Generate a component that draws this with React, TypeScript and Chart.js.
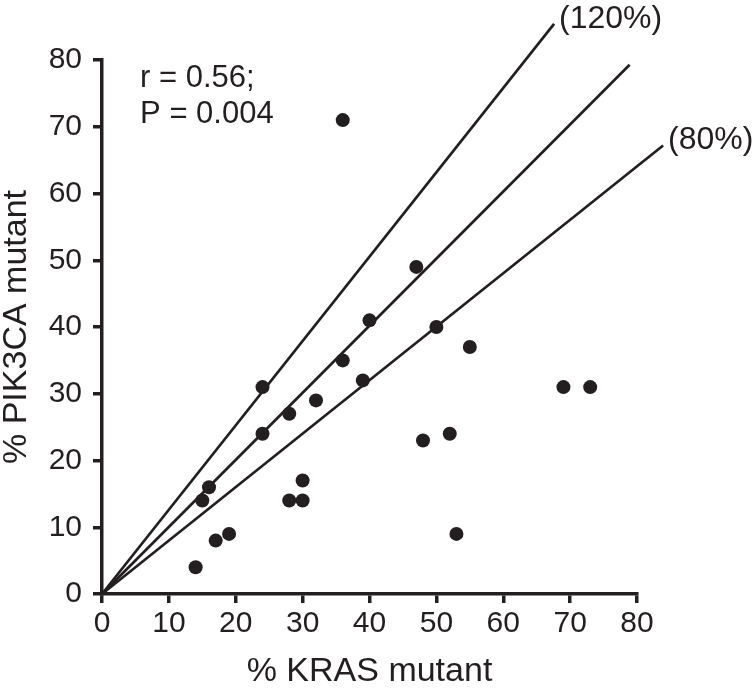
import React, { useEffect, useRef } from "react";
import { Chart, registerables } from "chart.js";

Chart.register(...registerables);

// ---- data ----
const krasMutant = [36, 40, 47, 50, 55, 69, 73, 48, 52, 53, 36, 39, 32, 28, 24, 24, 16, 15, 28, 30, 30, 17, 19, 14];
const pik3caMutant = [71, 41, 49, 40, 37, 31, 31, 23, 24, 9, 35, 32, 29, 27, 31, 24, 16, 14, 14, 14, 17, 8, 9, 4];

// reference lines from the origin: end points (x, y)
const lineEndX = [67.6, 78.9, 83.9];
const lineEndY = [85.4, 79.3, 67.2];
const lineLabels = ["(120%)", "", "(80%)"];

const statText = ["r = 0.56;", "P = 0.004"];
const statX = 5.7;
const statY = [76, 70.5];

const axisMin = 0;
const axisMax = 80;
const axisStep = 10;
const xTitle = "% KRAS mutant";
const yTitle = "% PIK3CA mutant";

const INK = "#231f20";
const FONT = '"Liberation Sans", Arial, Helvetica, sans-serif';

const textPlugin = {
  id: "textPlugin",
  afterDatasetsDraw(chart: any) {
    const { ctx, scales } = chart;
    const x = scales.x;
    const y = scales.y;
    ctx.save();
    ctx.fillStyle = INK;
    ctx.textAlign = "left";
    ctx.textBaseline = "alphabetic";
    ctx.font = `31px ${FONT}`;
    statText.forEach((t, i) => {
      ctx.fillText(t, x.getPixelForValue(statX), y.getPixelForValue(statY[i]));
    });
    ctx.font = `32px ${FONT}`;
    ctx.textBaseline = "middle";
    lineLabels.forEach((t, i) => {
      if (!t) return;
      ctx.fillText(t, x.getPixelForValue(lineEndX[i]) + 5, y.getPixelForValue(lineEndY[i]) - 5);
    });
    ctx.restore();
  },
};

export default function App() {
  const ref = useRef<HTMLCanvasElement | null>(null);

  useEffect(() => {
    if (!ref.current) return;
    const points = krasMutant.map((v, i) => ({ x: v, y: pik3caMutant[i] }));
    const lineSets = lineEndX.map((ex, i) => ({
      label: lineLabels[i] || "equal",
      data: [
        { x: 0, y: 0 },
        { x: ex, y: lineEndY[i] },
      ],
      showLine: true,
      borderColor: INK,
      borderWidth: 2.7,
      pointRadius: 0,
      pointHoverRadius: 0,
      clip: false as any,
      order: 2,
    }));

    const chart = new Chart(ref.current, {
      type: "scatter",
      data: {
        datasets: [
          {
            label: "samples",
            data: points,
            backgroundColor: INK,
            borderWidth: 0,
            pointRadius: 7,
            pointHoverRadius: 7,
            clip: false as any,
            order: 1,
          },
          ...lineSets,
        ],
      },
      plugins: [textPlugin],
      options: {
        responsive: false,
        animation: false,
        events: [],
        layout: { padding: { top: 60, right: 118, bottom: 0, left: 0 } },
        plugins: {
          legend: { display: false },
          tooltip: { enabled: false },
        },
        scales: {
          x: {
            type: "linear",
            min: axisMin,
            max: axisMax,
            afterFit(scale: any) {
              scale.height = 95;
            },
            ticks: {
              stepSize: axisStep,
              color: INK,
              font: { size: 30, family: FONT },
              padding: 3,
              maxRotation: 0,
            },
            grid: {
              drawOnChartArea: false,
              drawTicks: true,
              tickLength: 9,
              tickWidth: 3.5,
              lineWidth: 3.5,
              tickColor: INK,
            },
            border: { display: true, width: 3.5, color: INK },
            title: {
              display: true,
              text: xTitle,
              color: INK,
              font: { size: 34, family: FONT, lineHeight: 1 },
              padding: 0,
            },
          },
          y: {
            type: "linear",
            min: axisMin,
            max: axisMax,
            afterFit(scale: any) {
              scale.width = 102;
            },
            ticks: {
              stepSize: axisStep,
              color: INK,
              font: { size: 30, family: FONT },
              padding: 11,
            },
            grid: {
              drawOnChartArea: false,
              drawTicks: true,
              tickLength: 9,
              tickWidth: 3.5,
              lineWidth: 3.5,
              tickColor: INK,
            },
            border: { display: true, width: 3.5, color: INK },
            title: {
              display: true,
              text: yTitle,
              color: INK,
              font: { size: 34, family: FONT, lineHeight: 1 },
              padding: 0,
            },
          },
        },
      },
    } as any);
    return () => chart.destroy();
  }, []);

  return (
    <div style={{ position: "absolute", left: 0, top: 0, width: 755, height: 689, background: "#fff" }}>
      <canvas ref={ref} width={755} height={689} style={{ display: "block", width: 755, height: 689 }} />
    </div>
  );
}
